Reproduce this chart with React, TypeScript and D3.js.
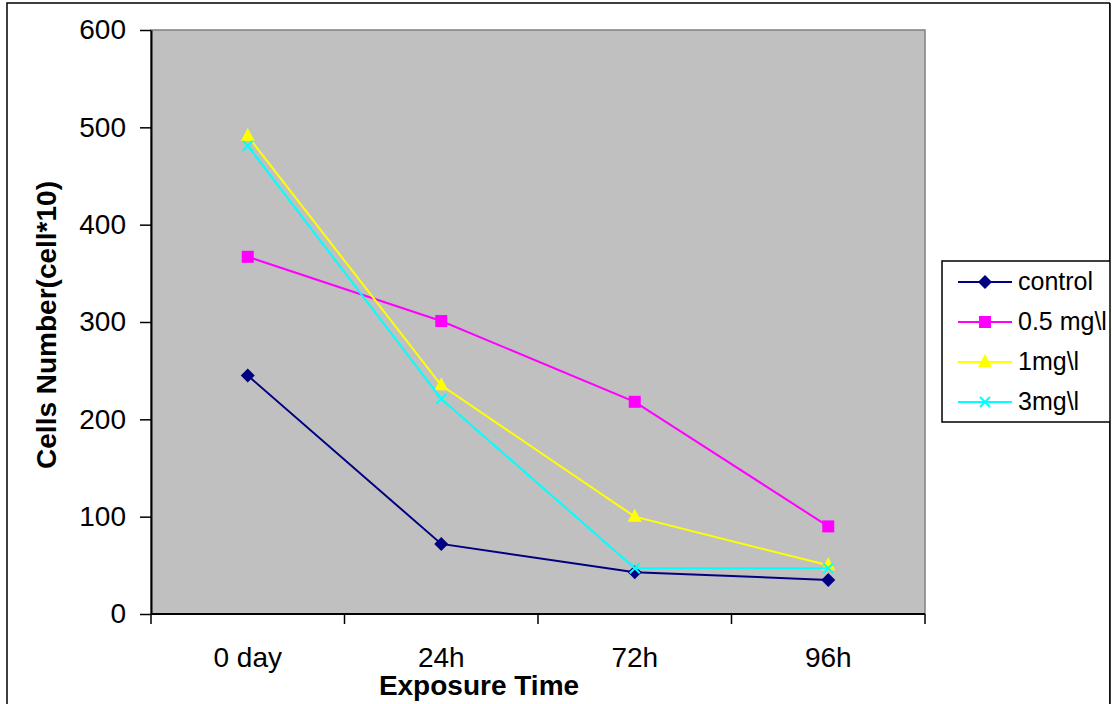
import React, { useEffect, useRef } from 'react';
import * as d3 from 'd3';

// Values
const categories = ['0 day', '24h', '72h', '96h'];
const controlValues = [245, 72, 43, 35];
const lowDoseValues = [367, 301, 218, 90];
const midDoseValues = [491, 235, 100, 50];
const highDoseValues = [481, 221, 47, 47];
const yTicks = [0, 100, 200, 300, 400, 500, 600];

const seriesNames = ['control', '0.5 mg\\l', '1mg\\l', '3mg\\l'];
const seriesColors = ['#000080', '#FF00FF', '#FFFF00', '#00FFFF'];
const seriesMarkers = ['diamond', 'square', 'triangle', 'cross'];

const FONT = '"Liberation Sans", Arial, sans-serif';

const App: React.FC = () => {
  const ref = useRef<SVGSVGElement>(null);

  useEffect(() => {
    if (!ref.current) return;
    const svg = d3.select(ref.current);
    svg.selectAll('*').remove();

    const height = 704;
    const left = 151;
    const right = 925;
    const top = 30;
    const bottom = 614;

    // outer chart frame
    svg.append('rect')
      .attr('x', 7).attr('y', 3)
      .attr('width', 1103).attr('height', height + 10)
      .attr('fill', '#fff')
      .attr('stroke', '#000')
      .attr('stroke-width', 1.5);

    const x = d3.scaleBand().domain(categories).range([left, right]);
    const y = d3.scaleLinear().domain([0, 600]).range([bottom, top]);

    // plot area
    svg.append('rect')
      .attr('x', left).attr('y', top)
      .attr('width', right - left).attr('height', bottom - top)
      .attr('fill', '#C0C0C0')
      .attr('stroke', '#808080')
      .attr('stroke-width', 1.5);

    // y axis
    const yAxis = svg.append('g').attr('transform', `translate(${left},0)`)
      .call(d3.axisLeft(y).tickValues(yTicks).tickSize(11).tickPadding(14).tickSizeOuter(0));
    yAxis.select('.domain').attr('stroke', '#000').attr('stroke-width', 2);
    yAxis.selectAll('line').attr('stroke', '#000').attr('stroke-width', 1.5);
    yAxis.selectAll('text')
      .style('font-family', FONT).style('font-size', '28px').attr('fill', '#000');

    // x axis (ticks at category boundaries)
    const xAxis = svg.append('g').attr('transform', `translate(0,${bottom})`);
    xAxis.append('line')
      .attr('x1', left).attr('x2', right)
      .attr('stroke', '#000').attr('stroke-width', 2);
    const boundaries = categories.map(c => x(c)!).concat([right]);
    xAxis.selectAll('line.tick')
      .data(boundaries)
      .enter().append('line')
      .attr('class', 'tick')
      .attr('x1', d => d).attr('x2', d => d)
      .attr('y1', 0).attr('y2', 10)
      .attr('stroke', '#000').attr('stroke-width', 1.5);
    xAxis.selectAll('text')
      .data(categories)
      .enter().append('text')
      .attr('x', d => x(d)! + x.bandwidth() / 2)
      .attr('y', 53)
      .attr('text-anchor', 'middle')
      .style('font-family', FONT).style('font-size', '28px')
      .text(d => d);

    // axis titles
    svg.append('text')
      .attr('x', 479).attr('y', 695)
      .attr('text-anchor', 'middle')
      .style('font-family', FONT).style('font-size', '28px').style('font-weight', 'bold')
      .text('Exposure Time');
    svg.append('text')
      .attr('transform', `translate(56,${(top + bottom) / 2 + 3}) rotate(-90)`)
      .attr('text-anchor', 'middle')
      .style('font-family', FONT).style('font-size', '28px').style('font-weight', 'bold')
      .text('Cells Number(cell*10)');

    const allSeries = [controlValues, lowDoseValues, midDoseValues, highDoseValues];

    const drawMarker = (g: d3.Selection<SVGGElement, unknown, null, undefined>, kind: string, cx: number, cy: number, color: string) => {
      if (kind === 'diamond') {
        g.append('path')
          .attr('d', `M${cx},${cy - 7}L${cx + 7},${cy}L${cx},${cy + 7}L${cx - 7},${cy}Z`)
          .attr('fill', color);
      } else if (kind === 'square') {
        g.append('rect')
          .attr('x', cx - 6).attr('y', cy - 6).attr('width', 12).attr('height', 12)
          .attr('fill', color);
      } else if (kind === 'triangle') {
        g.append('path')
          .attr('d', `M${cx},${cy - 8}L${cx + 7},${cy + 5}L${cx - 7},${cy + 5}Z`)
          .attr('fill', color);
      } else {
        g.append('path')
          .attr('d', `M${cx - 5},${cy - 5}L${cx + 5},${cy + 5}M${cx - 5},${cy + 5}L${cx + 5},${cy - 5}`)
          .attr('stroke', color).attr('stroke-width', 2).attr('fill', 'none');
      }
    };

    const line = d3.line<number>()
      .x((_, i) => x(categories[i])! + x.bandwidth() / 2)
      .y(d => y(d));

    allSeries.forEach((vals, si) => {
      const g = svg.append('g');
      g.append('path')
        .attr('d', line(vals)!)
        .attr('fill', 'none')
        .attr('stroke', seriesColors[si])
        .attr('stroke-width', 2);
      vals.forEach((v, i) => {
        drawMarker(g, seriesMarkers[si], x(categories[i])! + x.bandwidth() / 2, y(v), seriesColors[si]);
      });
    });

    // legend
    const legend = svg.append('g');
    legend.append('rect')
      .attr('x', 942).attr('y', 261)
      .attr('width', 175).attr('height', 161)
      .attr('fill', '#fff').attr('stroke', '#000').attr('stroke-width', 1.5);
    seriesNames.forEach((name, i) => {
      const ly = 282 + i * 40;
      const g = legend.append('g');
      g.append('line')
        .attr('x1', 958).attr('x2', 1012).attr('y1', ly).attr('y2', ly)
        .attr('stroke', seriesColors[i]).attr('stroke-width', 2);
      drawMarker(g, seriesMarkers[i], 985, ly, seriesColors[i]);
      g.append('text')
        .attr('x', 1018).attr('y', ly + 8)
        .style('font-family', FONT).style('font-size', '25px')
        .text(name);
    });
    // white strip beyond the frame and its right edge drawn on top of the legend
    svg.append('rect')
      .attr('x', 1110).attr('y', 0).attr('width', 10).attr('height', height)
      .attr('fill', '#fff');
    svg.append('line')
      .attr('x1', 1110).attr('x2', 1110).attr('y1', 3).attr('y2', height)
      .attr('stroke', '#000').attr('stroke-width', 1.5);
  }, []);

  return (
    <svg ref={ref} width={1112} height={704} style={{ position: 'absolute', left: 0, top: 0 }}></svg>
  );
};

export default App;
